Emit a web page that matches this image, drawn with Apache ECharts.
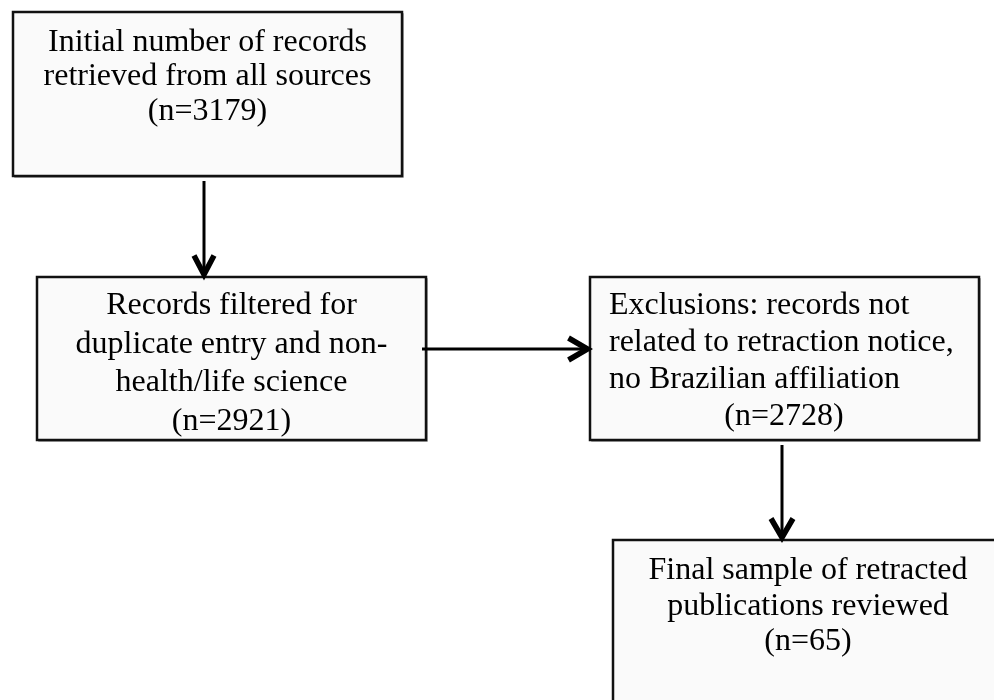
<!DOCTYPE html>
<html>
<head>
<meta charset="utf-8">
<script src="https://cdn.jsdelivr.net/npm/echarts@6/dist/echarts.min.js"></script>
<style>
html,body{margin:0;padding:0;background:#fff;}
#chart{width:994px;height:700px;}
</style>
</head>
<body>
<div id="chart"></div>
<script>
// ---- content (text of each step) ----
const step1Lines = ['Initial number of records', 'retrieved from all sources', '(n=3179)'];
const step2Lines = ['Records filtered for', 'duplicate entry and non-', 'health/life science', '(n=2921)'];
const step3Lines = ['Exclusions: records not', 'related to retraction notice,', 'no Brazilian affiliation', '(n=2728)'];
const step4Lines = ['Final sample of retracted', 'publications reviewed', '(n=65)'];
const stepCounts = [3179, 2921, 2728, 65];

// ---- layout ----
const FONT = '32px "Liberation Serif", "Times New Roman", serif';
const boxes = [
  { x: 13, y: 12, w: 389, h: 164, lines: step1Lines, cx: 207.5, y0: 42.5, lh: 34.5, align: 'center' },
  { x: 37, y: 277, w: 389, h: 163, lines: step2Lines, cx: 231.5, y0: 306, lh: 38.5, align: 'center' },
  { x: 590, y: 277, w: 389, h: 163, lines: step3Lines, cx: 784, lx: 609, y0: 306, lh: 36.8, align: 'mixed' },
  { x: 613, y: 540, w: 400, h: 180, lines: step4Lines, cx: 808, y0: 571, lh: 35.5, align: 'center' }
];

const elements = [];
boxes.forEach(function (b) {
  elements.push({
    type: 'rect',
    shape: { x: b.x + 1.5, y: b.y + 1.5, width: b.w, height: b.h },
    style: { fill: null, stroke: '#b0b0b0', lineWidth: 1 },
    z: 0
  });
  elements.push({
    type: 'rect',
    shape: { x: b.x, y: b.y, width: b.w, height: b.h },
    style: { fill: '#fafafa', stroke: '#111', lineWidth: 2.5 },
    z: 1
  });
  b.lines.forEach(function (t, i) {
    const last = i === b.lines.length - 1;
    const leftAligned = b.align === 'mixed' && !last;
    elements.push({
      type: 'text',
      x: leftAligned ? b.lx : b.cx,
      y: b.y0 + i * b.lh,
      style: {
        text: t,
        font: FONT,
        fill: '#000',
        align: leftAligned ? 'left' : 'center',
        verticalAlign: 'middle'
      },
      z: 2
    });
  });
});

// arrows: shaft + open chevron head
function arrow(x1, y1, x2, y2, headLen, headHalf) {
  const dx = x2 - x1, dy = y2 - y1;
  const len = Math.sqrt(dx * dx + dy * dy);
  const ux = dx / len, uy = dy / len;
  const px = -uy, py = ux;
  const tipX = x2 - ux * 2.5, tipY = y2 - uy * 2.5;
  const bx = tipX - ux * headLen, by = tipY - uy * headLen;
  elements.push({
    type: 'line',
    shape: { x1: x1, y1: y1, x2: tipX, y2: tipY },
    style: { stroke: '#000', lineWidth: 3 },
    z: 3
  });
  elements.push({
    type: 'polyline',
    shape: { points: [[bx + px * headHalf, by + py * headHalf], [tipX, tipY], [bx - px * headHalf, by - py * headHalf]] },
    style: { stroke: '#000', lineWidth: 5.5, fill: null, lineJoin: 'miter' },
    z: 3
  });
}
arrow(204, 181, 204, 277, 19, 10);
arrow(422, 349, 590, 349, 19, 11);
arrow(782, 445, 782, 540, 19, 11);

const chart = echarts.init(document.getElementById('chart'), null, { renderer: 'canvas' });
chart.setOption({
  backgroundColor: '#ffffff',
  animation: false,
  graphic: { elements: elements }
});
</script>
</body>
</html>
